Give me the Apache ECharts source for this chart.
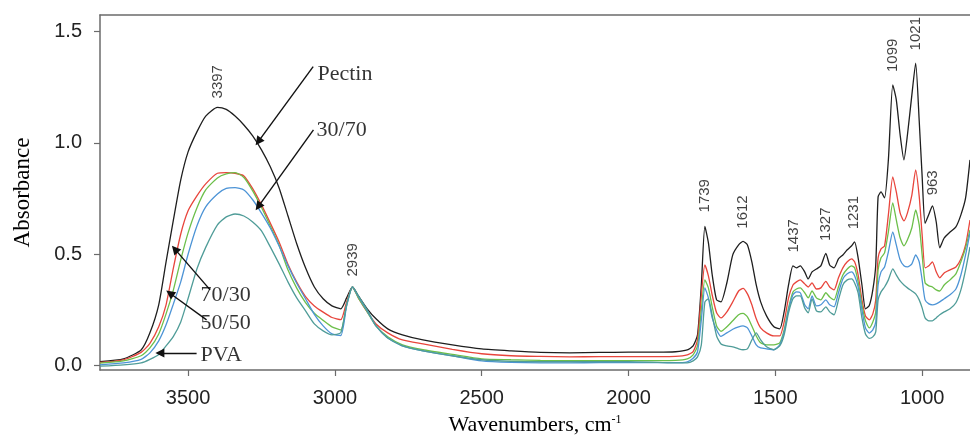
<!DOCTYPE html>
<html>
<head>
<meta charset="utf-8">
<script src="https://cdn.jsdelivr.net/npm/echarts@6/dist/echarts.min.js"></script>
<style>
html,body{margin:0;padding:0;background:#fff;}
#chart{width:970px;height:436px;}
</style>
</head>
<body>
<div id="chart"></div>
<script>
// ---- data ----
const wavenumbers = [3800,3720,3660,3630,3600, 3575,3550,3525,3500,3470, 3440,3400,3370,3340,3310,
  3280,3250,3220,3190,3160, 3130,3100,3070,3040,3010, 2980,2960,2940,2920,2890,
  2860,2820,2770,2700,2600, 2500,2400,2300,2200,2100, 2000,1900,1840,1800,1780,
  1765,1752,1740,1728,1715, 1700,1685,1665,1645,1625, 1610,1595,1580,1565,1550,
  1530,1505,1485,1470,1455, 1440,1428,1415,1400,1388, 1375,1360,1345,1328,1315,
  1300,1285,1270,1255,1240, 1230,1218,1205,1193,1180, 1168,1158,1150,1140,1128,
  1115,1100,1088,1075,1062, 1050,1035,1022,1010,1000, 990,977,965,952,940,
  925,905,885,868,852, 837];

const pectin = [0.018,0.030,0.070,0.147,0.273, 0.466,0.654,0.834,0.960,1.050, 1.121,1.160,1.151,1.121,1.081,
  1.032,0.969,0.893,0.798,0.673, 0.547,0.439,0.353,0.300,0.268, 0.255,0.304,0.353,0.313,0.255,
  0.210,0.165,0.138,0.115,0.093, 0.075,0.066,0.059,0.057,0.059, 0.060,0.060,0.062,0.070,0.088,
  0.138,0.362,0.625,0.552,0.408, 0.295,0.286,0.372,0.497,0.542, 0.558,0.542,0.466,0.362,0.286,
  0.223,0.174,0.165,0.241,0.362, 0.448,0.439,0.448,0.421,0.389, 0.421,0.434,0.448,0.504,0.452,
  0.439,0.479,0.497,0.520,0.538, 0.556,0.484,0.362,0.255,0.270, 0.340,0.452,0.758,0.780,0.753,
  0.924,1.261,1.194,1.037,0.924, 1.037,1.216,1.359,1.100,0.850, 0.639,0.680,0.717,0.645,0.529,
  0.573,0.600,0.623,0.677,0.753, 0.924];

const blend7030 = [0.014,0.026,0.059,0.100,0.174, 0.273,0.439,0.591,0.695,0.762, 0.816,0.864,0.867,0.864,0.852,
  0.795,0.722,0.640,0.555,0.455, 0.375,0.310,0.268,0.240,0.216, 0.206,0.286,0.353,0.304,0.241,
  0.187,0.147,0.115,0.097,0.073, 0.053,0.044,0.041,0.039,0.040, 0.040,0.040,0.041,0.048,0.063,
  0.115,0.317,0.452,0.403,0.317, 0.237,0.214,0.241,0.286,0.335, 0.347,0.322,0.273,0.210,0.169,
  0.147,0.133,0.133,0.196,0.304, 0.362,0.376,0.385,0.367,0.353, 0.371,0.344,0.349,0.378,0.353,
  0.340,0.394,0.439,0.466,0.479, 0.466,0.407,0.295,0.223,0.205, 0.232,0.295,0.484,0.524,0.538,
  0.677,0.848,0.780,0.686,0.650, 0.686,0.766,0.879,0.760,0.587, 0.439,0.448,0.466,0.421,0.394,
  0.416,0.430,0.443,0.479,0.542, 0.654];

const blend5050 = [0.011,0.021,0.044,0.079,0.142, 0.232,0.340,0.475,0.596,0.708, 0.789,0.843,0.861,0.867,0.845,
  0.785,0.710,0.627,0.540,0.430, 0.348,0.283,0.235,0.203,0.174, 0.160,0.273,0.353,0.304,0.241,
  0.178,0.129,0.093,0.071,0.050, 0.030,0.026,0.023,0.022,0.022, 0.022,0.022,0.023,0.030,0.048,
  0.088,0.250,0.385,0.349,0.264, 0.178,0.154,0.174,0.201,0.228, 0.234,0.219,0.178,0.133,0.102,
  0.093,0.093,0.102,0.160,0.259, 0.331,0.344,0.349,0.327,0.304, 0.335,0.304,0.295,0.327,0.308,
  0.295,0.353,0.407,0.434,0.448, 0.439,0.376,0.273,0.201,0.169, 0.196,0.241,0.430,0.484,0.506,
  0.601,0.731,0.654,0.574,0.538, 0.565,0.619,0.699,0.632,0.497, 0.372,0.358,0.353,0.340,0.335,
  0.362,0.385,0.412,0.466,0.529, 0.610];

const blend3070 = [0.003,0.012,0.028,0.057,0.111, 0.183,0.277,0.376,0.500,0.627, 0.713,0.771,0.796,0.799,0.789,
  0.745,0.685,0.618,0.537,0.449, 0.370,0.300,0.230,0.178,0.142, 0.135,0.268,0.353,0.309,0.246,
  0.178,0.124,0.088,0.066,0.044, 0.021,0.014,0.012,0.012,0.013, 0.013,0.013,0.013,0.017,0.033,
  0.062,0.205,0.349,0.304,0.214, 0.160,0.131,0.147,0.163,0.174, 0.178,0.169,0.133,0.093,0.079,
  0.075,0.071,0.093,0.151,0.250, 0.318,0.331,0.327,0.273,0.255, 0.313,0.268,0.273,0.295,0.273,
  0.264,0.327,0.389,0.412,0.421, 0.403,0.353,0.250,0.169,0.146, 0.160,0.196,0.362,0.421,0.443,
  0.511,0.601,0.542,0.475,0.448, 0.443,0.457,0.497,0.466,0.385, 0.295,0.277,0.273,0.277,0.286,
  0.300,0.318,0.344,0.407,0.497, 0.596];

const pva = [-0.003,0.003,0.012,0.028,0.050, 0.088,0.131,0.196,0.301,0.434, 0.531,0.632,0.668,0.681,0.672,
  0.645,0.605,0.533,0.457,0.376, 0.304,0.246,0.187,0.156,0.138, 0.147,0.273,0.353,0.313,0.250,
  0.178,0.124,0.088,0.066,0.044, 0.026,0.019,0.017,0.017,0.017, 0.017,0.014,0.012,0.012,0.021,
  0.039,0.093,0.285,0.300,0.225, 0.133,0.097,0.088,0.084,0.075, 0.071,0.075,0.115,0.147,0.115,
  0.084,0.071,0.088,0.138,0.237, 0.300,0.313,0.313,0.259,0.237, 0.300,0.246,0.241,0.264,0.241,
  0.228,0.295,0.362,0.385,0.389, 0.371,0.327,0.214,0.142,0.122, 0.129,0.151,0.295,0.331,0.353,
  0.385,0.434,0.407,0.380,0.362, 0.349,0.335,0.322,0.295,0.259, 0.214,0.201,0.201,0.214,0.228,
  0.241,0.255,0.282,0.340,0.430, 0.533];

const seriesNames = ['Pectin','70/30','50/50','30/70','PVA'];
const xTicks = [3500,3000,2500,2000,1500,1000];
const yTicks = [0,0.5,1.0,1.5];

// peak annotations (wavenumber, absorbance level of the label centre)
const peakWavenumbers = [3397,2939,1739,1612,1437,1327,1231,1099,1021,963];
const peakLabelLevel  = [1.275,0.475,0.763,0.690,0.583,0.635,0.687,1.394,1.491,0.821];

// arrow annotations
const annotNames    = ['Pectin','30/70','70/30','50/50','PVA'];
const annotTextWn   = [3061,3064,3459,3459,3459];
const annotTextAbs  = [1.310,1.058,0.318,0.190,0.048];
const arrowStartWn  = [3074,3073,3425,3437,3471];
const arrowStartAbs = [1.343,1.059,0.340,0.205,0.056];
const arrowEndWn    = [3261,3261,3545,3562,3596];
const arrowEndAbs   = [1.006,0.714,0.523,0.325,0.056];

// ---- chart ----
const colors = ['#1e1e1e','#e8453c','#6cbf4a','#4d94d6','#4f9c98'];
const spectra = [pectin, blend7030, blend5050, blend3070, pva];
const xMin = 837, xMax = 3800, yMin = -0.02, yMax = 1.575;
const axisColor = '#6b6b6b';

const lineSeries = spectra.map((arr, k) => ({
  name: seriesNames[k],
  type: 'line',
  data: wavenumbers.map((w, i) => [w, arr[i]]),
  showSymbol: false,
  symbol: 'none',
  smooth: 0.2,
  lineStyle: { color: colors[k], width: 1.3 },
  silent: true,
  z: 2
}));

const peakSeries = {
  type: 'scatter',
  silent: true,
  symbolSize: 1,
  itemStyle: { color: 'rgba(0,0,0,0)' },
  data: peakWavenumbers.map((w, i) => [w, peakLabelLevel[i], String(w)]),
  label: {
    show: true, position: 'inside', rotate: 90,
    formatter: p => p.value[2],
    fontFamily: 'Liberation Sans', fontSize: 15, color: '#111'
  },
  z: 5
};

const annotSeries = {
  type: 'scatter',
  silent: true,
  symbolSize: 1,
  itemStyle: { color: 'rgba(0,0,0,0)' },
  data: annotNames.map((n, i) => [annotTextWn[i], annotTextAbs[i], n]),
  label: {
    show: true, position: 'right', distance: 0,
    formatter: p => p.value[2],
    fontFamily: 'Liberation Serif', fontSize: 22, color: '#000'
  },
  markLine: {
    silent: true,
    animation: false,
    symbol: ['none', 'triangle'],
    symbolSize: 9,
    label: { show: false },
    lineStyle: { color: '#111', width: 1.4, type: 'solid' },
    itemStyle: { color: '#111' },
    data: annotNames.map((n, i) => [
      { coord: [arrowStartWn[i], arrowStartAbs[i]] },
      { coord: [arrowEndWn[i], arrowEndAbs[i]] }
    ])
  },
  z: 6
};

const chart = echarts.init(document.getElementById('chart'), null, { renderer: 'canvas' });
chart.setOption({
  animation: false,
  backgroundColor: '#fff',
  grid: { left: 100, right: 0, top: 15, bottom: 66, containLabel: false, outerBoundsMode: 'none' },
  xAxis: [{
    type: 'value', min: xMin, max: xMax, inverse: true, position: 'bottom',
    axisLine: { show: true, onZero: false, lineStyle: { color: axisColor, width: 1.5 } },
    axisTick: { show: true, inside: false, length: 6, customValues: xTicks, lineStyle: { color: axisColor, width: 1.2 } },
    axisLabel: { customValues: xTicks, margin: 18, fontFamily: 'Liberation Sans', fontSize: 20, color: '#222',
      formatter: v => String(Math.round(v)) },
    splitLine: { show: false },
    name: '{a|Wavenumbers, cm}{b|-1}',
    nameLocation: 'middle', nameGap: 44,
    nameTextStyle: {
      rich: {
        a: { fontFamily: 'Liberation Serif', fontSize: 22, color: '#000', verticalAlign: 'bottom' },
        b: { fontFamily: 'Liberation Serif', fontSize: 12, color: '#000', verticalAlign: 'top' }
      }
    }
  }, {
    type: 'value', min: xMin, max: xMax, inverse: true, position: 'top',
    axisLine: { show: true, onZero: false, lineStyle: { color: axisColor, width: 1.5 } },
    axisTick: { show: false }, axisLabel: { show: false }, splitLine: { show: false }
  }],
  yAxis: {
    type: 'value', min: yMin, max: yMax,
    axisLine: { show: true, onZero: false, lineStyle: { color: axisColor, width: 1.5 } },
    axisTick: { show: true, inside: false, length: 6, customValues: yTicks, lineStyle: { color: axisColor, width: 1.2 } },
    axisLabel: { customValues: yTicks, margin: 18, fontFamily: 'Liberation Sans', fontSize: 20, color: '#222',
      formatter: v => Number(v).toFixed(1) },
    splitLine: { show: false },
    name: 'Absorbance', nameLocation: 'middle', nameGap: 66,
    nameTextStyle: { fontFamily: 'Liberation Serif', fontSize: 23, color: '#000' }
  },
  series: [...lineSeries, peakSeries, annotSeries]
});
</script>
</body>
</html>
